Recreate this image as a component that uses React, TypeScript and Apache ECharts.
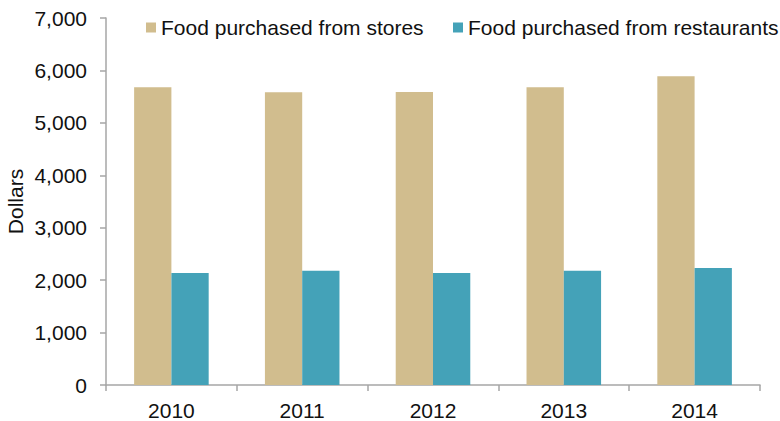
import React, { useEffect, useRef } from "react";
import * as echarts from "echarts";

const years = ["2010", "2011", "2012", "2013", "2014"];
const storeValues = [5680, 5585, 5590, 5680, 5890];
const restaurantValues = [2135, 2180, 2135, 2180, 2230];
const seriesNames = ["Food purchased from stores", "Food purchased from restaurants"];
const yTicks = { min: 0, max: 7000, interval: 1000 };

const FONT = "'Liberation Sans', Arial, sans-serif";
const AXIS_COLOR = "#A6A6A6";
const TEXT_COLOR = "#111111";

export default function App() {
  const ref = useRef<HTMLDivElement>(null);
  useEffect(() => {
    if (!ref.current) return;
    const chart = echarts.init(ref.current, null, { renderer: "svg" });
    chart.setOption({
      animation: false,
      textStyle: { fontFamily: FONT },
      grid: {
        left: 106,
        right: 20,
        top: 18,
        bottom: 36,
        containLabel: false,
        outerBoundsMode: "none",
      },
      legend: [
        {
          data: [seriesNames[0]],
          left: 141,
          top: 12,
          itemWidth: 10,
          itemHeight: 10,
          icon: "rect",
          textStyle: { fontSize: 21, color: TEXT_COLOR, fontFamily: FONT },
        },
        {
          data: [seriesNames[1]],
          left: 448,
          top: 12,
          itemWidth: 10,
          itemHeight: 10,
          icon: "rect",
          textStyle: { fontSize: 21, color: TEXT_COLOR, fontFamily: FONT },
        },
      ],
      xAxis: {
        type: "category",
        data: years,
        axisLine: { lineStyle: { color: AXIS_COLOR, width: 1.5 } },
        axisTick: { show: true, length: 6, lineStyle: { color: AXIS_COLOR, width: 1.5 } },
        axisLabel: { fontSize: 21, color: TEXT_COLOR, margin: 15, fontFamily: FONT },
      },
      yAxis: {
        type: "value",
        min: yTicks.min,
        max: yTicks.max,
        interval: yTicks.interval,
        name: "Dollars",
        nameLocation: "middle",
        nameGap: 80,
        nameMoveOverlap: false,
        nameTextStyle: { fontSize: 21, color: TEXT_COLOR, fontFamily: FONT },
        axisLine: { show: true, lineStyle: { color: AXIS_COLOR, width: 1.5 } },
        axisTick: { show: true, length: 6, lineStyle: { color: AXIS_COLOR, width: 1.5 } },
        splitLine: { show: false },
        axisLabel: {
          fontSize: 21,
          color: TEXT_COLOR,
          margin: 19,
          fontFamily: FONT,
          formatter: (v: number) => v.toLocaleString("en-US"),
        },
      },
      series: [
        {
          name: seriesNames[0],
          type: "bar",
          data: storeValues,
          itemStyle: { color: "#D1BD8E" },
          barGap: "0%",
          barCategoryGap: "43%",
        },
        {
          name: seriesNames[1],
          type: "bar",
          data: restaurantValues,
          itemStyle: { color: "#44A2B8" },
          barGap: "0%",
          barCategoryGap: "43%",
        },
      ],
    });
    return () => chart.dispose();
  }, []);
  return <div ref={ref} style={{ width: 780, height: 421, position: "absolute", left: 0, top: 0 }} />;
}
